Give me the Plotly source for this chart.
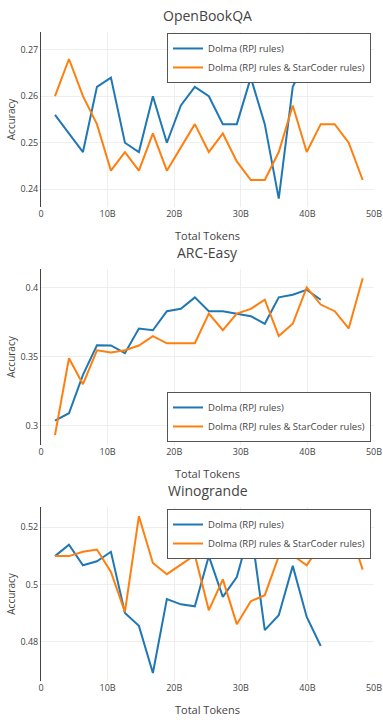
import plotly.graph_objects as go
from plotly.subplots import make_subplots

# Training progress in billions of tokens
tokens_rpj = [2.1, 4.2, 6.3, 8.4, 10.5, 12.6, 14.7, 16.8, 18.9, 21.0, 23.1, 25.2,
              27.3, 29.4, 31.5, 33.6, 35.7, 37.8, 39.9, 42.0]
tokens_code = [2.1, 4.2, 6.3, 8.4, 10.5, 12.6, 14.7, 16.8, 18.9, 21.0, 23.1, 25.2,
               27.3, 29.4, 31.5, 33.6, 35.7, 37.8, 39.9, 42.0, 44.1, 46.2, 48.3]

# OpenBookQA accuracy
obqa_rpj = [0.256, 0.252, 0.248, 0.262, 0.264, 0.250, 0.248, 0.260, 0.250, 0.258,
            0.262, 0.260, 0.254, 0.254, 0.264, 0.254, 0.238, 0.262, 0.268, 0.266]
obqa_code = [0.260, 0.268, 0.260, 0.254, 0.244, 0.248, 0.244, 0.252, 0.244, 0.249,
             0.254, 0.248, 0.252, 0.246, 0.242, 0.242, 0.248, 0.258, 0.248, 0.254,
             0.254, 0.250, 0.242]

# ARC-Easy accuracy
arc_rpj = [0.3036, 0.309, 0.3367, 0.3581, 0.358, 0.3524, 0.3703, 0.369, 0.3828, 0.3845,
           0.3928, 0.3828, 0.3828, 0.381, 0.3792, 0.3737, 0.3928, 0.3947, 0.3983, 0.3911]
arc_code = [0.2932, 0.3488, 0.330, 0.3545, 0.3529, 0.3545, 0.358, 0.3648, 0.3596, 0.3596,
            0.3596, 0.381, 0.369, 0.381, 0.3845, 0.3911, 0.3648, 0.3737, 0.400, 0.3876,
            0.3828, 0.3703, 0.4067]

# Winogrande accuracy
wino_rpj = [0.5099, 0.5139, 0.5067, 0.5081, 0.5114, 0.4901, 0.4856, 0.4692, 0.4949, 0.4931,
            0.4924, 0.5099, 0.4957, 0.5026, 0.5200, 0.4841, 0.4893, 0.5065, 0.4887, 0.4786]
wino_code = [0.5099, 0.5099, 0.5114, 0.5122, 0.5044, 0.4905, 0.5238, 0.5075, 0.5036, 0.5070,
             0.5102, 0.4910, 0.5018, 0.4862, 0.4942, 0.4963, 0.5099, 0.5102, 0.5067, 0.5140,
             0.5160, 0.5200, 0.5052]

titles = ["OpenBookQA", "ARC-Easy", "Winogrande"]
series_names = ["Dolma (RPJ rules)", "Dolma (RPJ rules & StarCoder rules)"]
x_tickvals = [0, 10, 20, 30, 40, 50]
x_ticktext = ["0", "10B", "20B", "30B", "40B", "50B"]

panels = [
    (obqa_rpj, obqa_code, [0.2362, 0.2738], 0.01),
    (arc_rpj, arc_code, [0.286, 0.4133], 0.05),
    (wino_rpj, wino_code, [0.4664, 0.527], 0.02),
]

colors = ["#1f77b4", "#ff7f0e"]
font = "Open Sans, sans-serif"
text_color = "#444"

fig = make_subplots(rows=3, cols=1)

domains = [[0.7304, 1.0], [0.3636, 0.6348], [0.0, 0.2681]]
legend_keys = ["legend", "legend2", "legend3"]

for i, (rpj, code, yrange, dtick) in enumerate(panels):
    row = i + 1
    for j, (xs, ys) in enumerate([(tokens_rpj, rpj), (tokens_code, code)]):
        fig.add_trace(
            go.Scatter(x=xs, y=ys, mode="lines", name=series_names[j],
                       line=dict(color=colors[j], width=2),
                       legend=legend_keys[i]),
            row=row, col=1,
        )
    fig.update_xaxes(range=[0, 50], tickvals=x_tickvals, ticktext=x_ticktext,
                     showgrid=True, gridcolor="#eee", gridwidth=1, zeroline=False,
                     showline=False, automargin=False,
                     tickfont=dict(size=9, color=text_color),
                     title=dict(text="Total Tokens", font=dict(size=11, color=text_color),
                                standoff=13),
                     domain=[0, 1], row=row, col=1)
    fig.update_yaxes(range=yrange, dtick=dtick, showgrid=True, gridcolor="#eee",
                     zeroline=False, showline=True, linecolor="#444", linewidth=1,
                     automargin=False,
                     tickfont=dict(size=9, color=text_color),
                     title=dict(text="Accuracy", font=dict(size=10, color=text_color),
                                standoff=2),
                     domain=domains[i], row=row, col=1)
    fig.add_annotation(text=titles[i], xref="paper", yref="paper", x=0.5,
                       y=domains[i][1], xanchor="center", yanchor="bottom", yshift=5,
                       showarrow=False, font=dict(size=14, color=text_color, family=font))

legend_style = dict(xanchor="right", x=0.991, bgcolor="white", bordercolor="#555",
                    borderwidth=1, font=dict(size=9.5, color=text_color))

fig.update_layout(
    width=383, height=720,
    margin=dict(l=41, r=9, t=32, b=39),
    paper_bgcolor="white", plot_bgcolor="white",
    font=dict(family=font, color=text_color),
    legend=dict(y=0.9985, yanchor="top", **legend_style),
    legend2=dict(y=0.3683, yanchor="bottom", **legend_style),
    legend3=dict(y=0.265, yanchor="top", **legend_style),
)

fig.write_html("out.html")
